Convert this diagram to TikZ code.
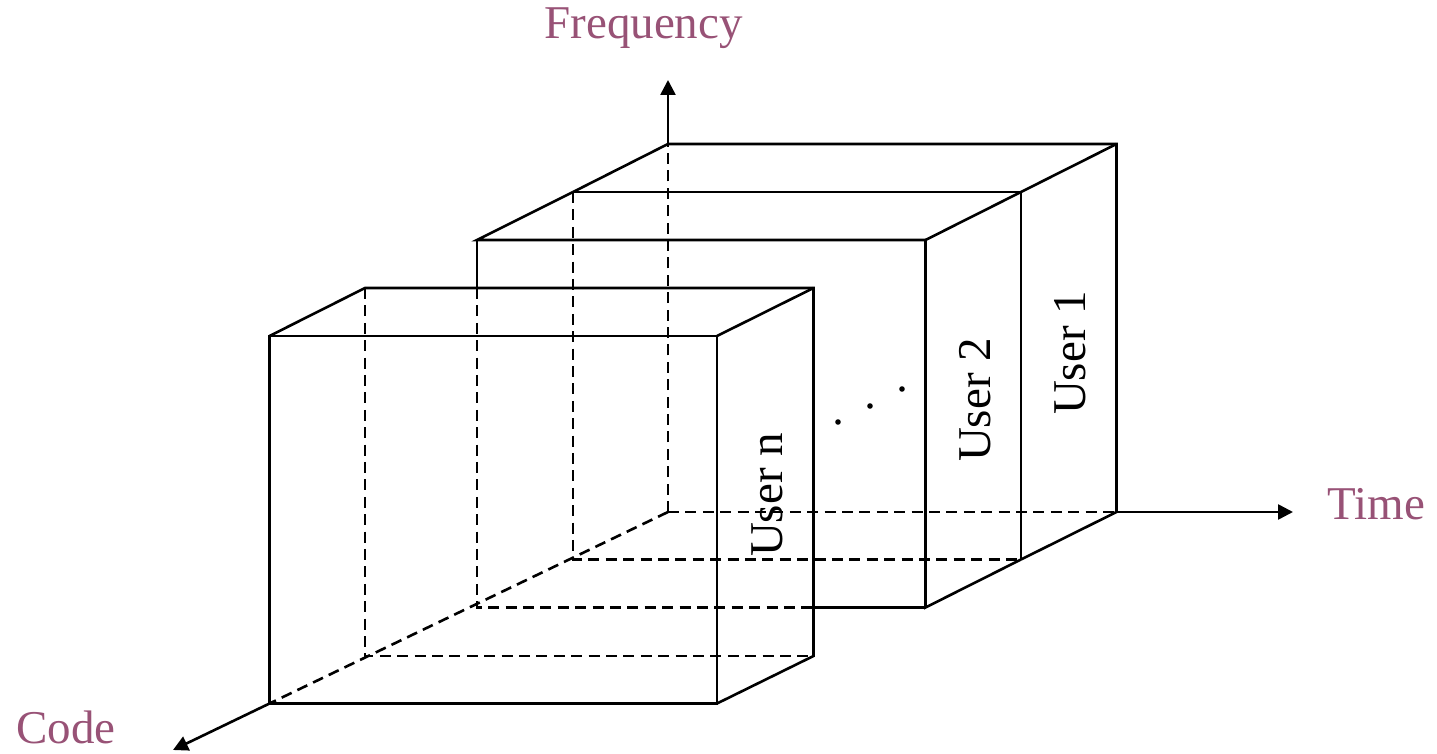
\documentclass[tikz,border=0pt]{standalone}
\usepackage{fontspec}
\setmainfont{Liberation Serif}
\usetikzlibrary{arrows.meta}
\definecolor{axlabel}{RGB}{152,82,118}
\tikzset{
  edge/.style={line width=1.3pt, line cap=butt},
  hidden/.style={edge, dash pattern=on 5.5pt off 3.2pt},
  axarrow/.style={edge, -{Triangle[length=7.5pt,width=7.5pt]}},
  axtext/.style={text=axlabel, font=\fontsize{23.5pt}{28pt}\selectfont, inner sep=0pt, anchor=base west},
  usertext/.style={font=\fontsize{23.5pt}{28pt}\selectfont, inner sep=0pt, rotate=90},
  dotmark/.style={fill=black, draw=none}
}
\begin{document}
\begin{tikzpicture}[x=0.5pt, y=-0.5pt]
\useasboundingbox (0,0) rectangle (1437,754);
% axes
\coordinate (O) at (668,512);
\coordinate (ftip) at (668,80);
\coordinate (ttip) at (1293,512);
\coordinate (ctip) at (173,750);
% box 1 back face
\coordinate (Atl) at (668,144);
\coordinate (Atr) at (1116.5,144);
\coordinate (Abr) at (1116.5,512);
% box 1 front = box 2 back
\coordinate (Btl) at (573,192);
\coordinate (Btr) at (1021,192);
\coordinate (Bbl) at (573,559.5);
\coordinate (Bbr) at (1021,559.5);
% box 2 front
\coordinate (Ctl) at (477,240);
\coordinate (Ctr) at (925.5,240);
\coordinate (Cbl) at (477,607.5);
\coordinate (Cbr) at (925.5,607.5);
\coordinate (Cmid) at (477,288);
\coordinate (Cbm) at (813.5,607.5);
% box n back
\coordinate (Ntl) at (365,288);
\coordinate (Ntr) at (813.5,288);
\coordinate (Nbl) at (365,656);
\coordinate (Nbr) at (813.5,656);
% box n front
\coordinate (Mtl) at (269.5,336);
\coordinate (Mtr) at (717,336);
\coordinate (Mbl) at (269.5,703.5);
\coordinate (Mbr) at (717,703.5);

% axes: hidden parts and arrows
\draw[hidden] (O) -- (Atl);
\draw[axarrow] (Atl) -- (ftip);
\draw[hidden] (O) -- (Abr);
\draw[axarrow] (Abr) -- (ttip);
\draw[hidden] (O) -- (Mbl);
\draw[axarrow] (Mbl) -- (ctip);

% box 1
\draw[edge] (Btl) -- (Atl) -- (Atr) -- (Abr) -- (Bbr);
\draw[edge] (Atr) -- (Btr);
\draw[edge] (Btl) -- (Btr) -- (Bbr);
\draw[hidden] (Btl) -- (Bbl) -- (Bbr);

% box 2
\draw[edge] (Btl) -- (Ctl) -- (Ctr) -- (Cbr) -- (Bbr);
\draw[edge] (Btr) -- (Ctr);
\draw[edge] (Ctl) -- (Cmid);
\draw[hidden] (Cmid) -- (Cbl) -- (Cbm);
\draw[edge] (Cbm) -- (Cbr);

% box n
\draw[edge] (Mtl) -- (Ntl) -- (Ntr) -- (Nbr) -- (Mbr);
\draw[edge] (Ntr) -- (Mtr);
\draw[edge] (Mtl) -- (Mtr) -- (Mbr) -- (Mbl) -- cycle;
\draw[hidden] (Ntl) -- (Nbl) -- (Nbr);

% labels
\node[usertext] (u1) at (1070,353) {User 1};
\node[usertext] (u2) at (975,400) {User 2};
\node[usertext] (un) at (767,495) {User n};
\fill[dotmark] (838,422) circle (2.8);
\fill[dotmark] (870,406) circle (2.8);
\fill[dotmark] (902,389) circle (2.8);

\node[axtext] (lf) at (544,39) {Frequency};
\node[axtext] (lt) at (1327,520) {Time};
\node[axtext] (lc) at (16,743) {Code};
\end{tikzpicture}
\end{document}
